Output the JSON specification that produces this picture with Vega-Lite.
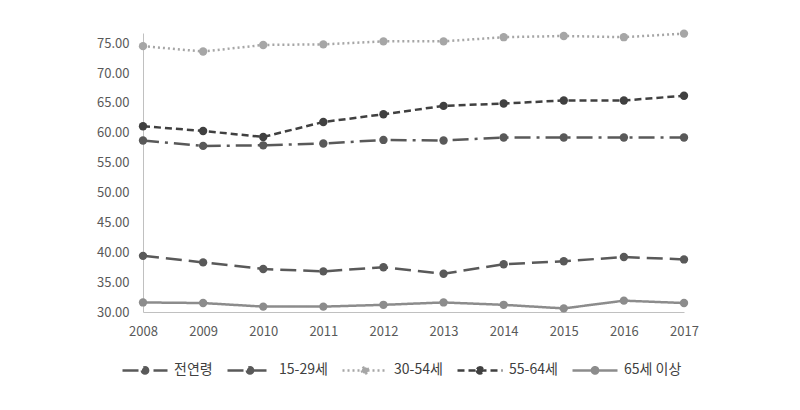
{
  "$schema": "https://vega.github.io/schema/vega-lite/v6.json",
  "width": 541,
  "height": 279,
  "autosize": "none",
  "padding": {"left": 143, "top": 33, "right": 116, "bottom": 98},
  "background": "white",
  "config": {
    "view": {"stroke": null},
    "font": "Noto Sans CJK KR",
    "axis": {"labelFont": "Noto Sans CJK KR", "labelFontSize": 13, "labelColor": "#595959", "domainColor": "#c0c0c0", "domainWidth": 1, "ticks": false, "grid": false, "title": null}
  },
  "data": {
    "values": [
      {"year": 2008, "series": "전연령", "value": 58.7},
      {"year": 2009, "series": "전연령", "value": 57.8},
      {"year": 2010, "series": "전연령", "value": 57.9},
      {"year": 2011, "series": "전연령", "value": 58.2},
      {"year": 2012, "series": "전연령", "value": 58.8},
      {"year": 2013, "series": "전연령", "value": 58.7},
      {"year": 2014, "series": "전연령", "value": 59.2},
      {"year": 2015, "series": "전연령", "value": 59.2},
      {"year": 2016, "series": "전연령", "value": 59.2},
      {"year": 2017, "series": "전연령", "value": 59.2},
      {"year": 2008, "series": "15-29세", "value": 39.4},
      {"year": 2009, "series": "15-29세", "value": 38.3},
      {"year": 2010, "series": "15-29세", "value": 37.2},
      {"year": 2011, "series": "15-29세", "value": 36.8},
      {"year": 2012, "series": "15-29세", "value": 37.5},
      {"year": 2013, "series": "15-29세", "value": 36.4},
      {"year": 2014, "series": "15-29세", "value": 38.0},
      {"year": 2015, "series": "15-29세", "value": 38.5},
      {"year": 2016, "series": "15-29세", "value": 39.2},
      {"year": 2017, "series": "15-29세", "value": 38.8},
      {"year": 2008, "series": "30-54세", "value": 74.5},
      {"year": 2009, "series": "30-54세", "value": 73.6},
      {"year": 2010, "series": "30-54세", "value": 74.7},
      {"year": 2011, "series": "30-54세", "value": 74.8},
      {"year": 2012, "series": "30-54세", "value": 75.3},
      {"year": 2013, "series": "30-54세", "value": 75.3},
      {"year": 2014, "series": "30-54세", "value": 76.0},
      {"year": 2015, "series": "30-54세", "value": 76.2},
      {"year": 2016, "series": "30-54세", "value": 76.0},
      {"year": 2017, "series": "30-54세", "value": 76.6},
      {"year": 2008, "series": "55-64세", "value": 61.1},
      {"year": 2009, "series": "55-64세", "value": 60.3},
      {"year": 2010, "series": "55-64세", "value": 59.3},
      {"year": 2011, "series": "55-64세", "value": 61.8},
      {"year": 2012, "series": "55-64세", "value": 63.1},
      {"year": 2013, "series": "55-64세", "value": 64.5},
      {"year": 2014, "series": "55-64세", "value": 64.9},
      {"year": 2015, "series": "55-64세", "value": 65.4},
      {"year": 2016, "series": "55-64세", "value": 65.4},
      {"year": 2017, "series": "55-64세", "value": 66.2},
      {"year": 2008, "series": "65세 이상", "value": 31.6},
      {"year": 2009, "series": "65세 이상", "value": 31.5},
      {"year": 2010, "series": "65세 이상", "value": 30.9},
      {"year": 2011, "series": "65세 이상", "value": 30.9},
      {"year": 2012, "series": "65세 이상", "value": 31.2},
      {"year": 2013, "series": "65세 이상", "value": 31.6},
      {"year": 2014, "series": "65세 이상", "value": 31.2},
      {"year": 2015, "series": "65세 이상", "value": 30.6},
      {"year": 2016, "series": "65세 이상", "value": 31.9},
      {"year": 2017, "series": "65세 이상", "value": 31.5}
    ]
  },
  "encoding": {
    "x": {
      "field": "year", "type": "quantitative",
      "scale": {"domain": [2008, 2017], "nice": false, "zero": false},
      "axis": {"values": [2008, 2009, 2010, 2011, 2012, 2013, 2014, 2015, 2016, 2017], "format": "d", "labelPadding": 13, "labelFlush": false}
    },
    "y": {
      "field": "value", "type": "quantitative",
      "scale": {"domain": [30, 76.7], "nice": false, "zero": false},
      "axis": {"values": [30, 35, 40, 45, 50, 55, 60, 65, 70, 75], "format": ".2f", "labelPadding": 14}
    }
  },
  "layer": [
    {
      "mark": {"type": "line", "strokeWidth": 2.5},
      "encoding": {
        "color": {
          "field": "series", "type": "nominal",
          "scale": {"domain": ["전연령", "15-29세", "30-54세", "55-64세", "65세 이상"], "range": ["#595959", "#595959", "#a6a6a6", "#404040", "#8c8c8c"]},
          "legend": {
            "title": null, "orient": "none", "direction": "horizontal", "columns": 5,
            "legendX": -22, "legendY": 313,
            "symbolType": "M-1,0H1M-0.14,0A0.14,0.14 0 1,0 0.14,0A0.14,0.14 0 1,0 -0.14,0Z",
            "symbolSize": 2025, "symbolStrokeWidth": 2.5,
            "labelFont": "Noto Sans CJK KR", "labelFontSize": 14, "labelColor": "#404040",
            "labelOffset": 5, "columnPadding": 9,
            "encode": {"symbols": {"update": {"fill": {"scale": "color", "field": "value"}, "opacity": {"value": 1}}}}
          }
        },
        "strokeDash": {
          "field": "series", "type": "nominal",
          "scale": {"domain": ["전연령", "15-29세", "30-54세", "55-64세", "65세 이상"], "range": [[16, 6, 3, 6], [16, 7], [2, 3], [7, 4], [1, 0]]},
          "legend": null
        }
      }
    },
    {
      "mark": {"type": "point", "filled": true, "size": 70, "opacity": 1},
      "encoding": {
        "color": {"field": "series", "type": "nominal", "legend": null}
      }
    }
  ]
}
